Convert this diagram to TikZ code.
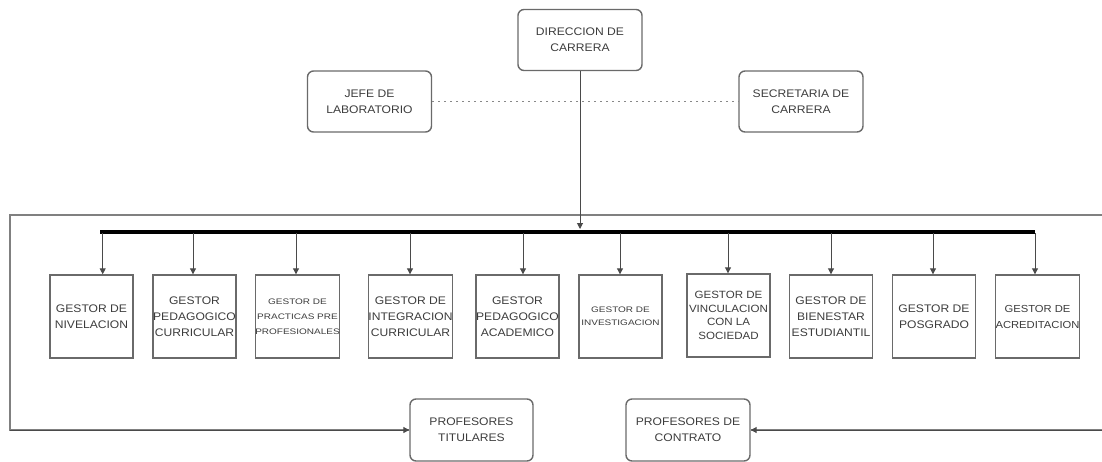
\documentclass[tikz,border=0pt]{standalone}
\usepackage{fontspec}
\setmainfont[FakeStretch=1.1]{Liberation Sans}
\newfontfamily\widefont[FakeStretch=1.25]{Liberation Sans}
\usetikzlibrary{arrows.meta}
\definecolor{ln}{HTML}{6A6A6A}
\definecolor{tx}{HTML}{3C3C3C}
\begin{document}
\begin{tikzpicture}[x=1pt,y=-1pt,
 rbox/.style={draw=ln,line width=1.4pt,rounded corners=6pt,minimum width=124pt,minimum height=61pt,inner sep=0pt,align=center,text=tx,font=\fontsize{11}{16}\selectfont},
 gbox/.style={draw=ln,line width=1.4pt,minimum width=83pt,minimum height=83pt,inner sep=0pt,align=center,text=tx,font=\fontsize{11}{16}\selectfont},
 arr/.style={draw=ln!70!black,line width=1pt,-{Triangle[width=6pt,length=6pt]}},
 framel/.style={draw=ln!85,line width=1.6pt},
 busl/.style={draw=black,line width=4pt},
]
\useasboundingbox (0,0) rectangle (1102,461);

% top level
\node[rbox] (dir) at (580,40) {DIRECCION DE\\CARRERA};
\node[rbox] (jefe) at (369.5,101.5) {JEFE DE\\LABORATORIO};
\node[rbox] (sec) at (801,101.5) {SECRETARIA DE\\CARRERA};
\draw[ln!80,line width=1.8pt,dash pattern=on 1.8pt off 4.2pt] (jefe.east) -- (sec.west);

% gestores
\node[gbox] (g1) at (91.5,316.5) {GESTOR DE\\NIVELACION};
\node[gbox] (g2) at (194.5,316.5) {GESTOR\\PEDAGOGICO\\CURRICULAR};
\node[gbox,font=\widefont\fontsize{8}{15}\selectfont] (g3) at (297.5,316.5) {GESTOR DE\\PRACTICAS PRE\\PROFESIONALES};
\node[gbox] (g4) at (410.5,316.5) {GESTOR DE\\INTEGRACION\\CURRICULAR};
\node[gbox] (g5) at (517.5,316.5) {GESTOR\\PEDAGOGICO\\ACADEMICO};
\node[gbox,font=\widefont\fontsize{8}{12.7}\selectfont] (g6) at (620.5,316.5) {GESTOR DE\\INVESTIGACION};
\node[gbox,font=\fontsize{10.5}{13.5}\selectfont] (g7) at (728.5,315.5) {GESTOR DE\\VINCULACION\\CON LA\\SOCIEDAD};
\node[gbox] (g8) at (831,316.5) {GESTOR DE\\BIENESTAR\\ESTUDIANTIL};
\node[gbox] (g9) at (934,316.5) {GESTOR DE\\POSGRADO};
\node[gbox,font=\fontsize{10.2}{16}\selectfont] (g10) at (1037.5,316.5) {GESTOR DE\\ACREDITACION};

% profesores
\node[rbox,minimum width=123pt,minimum height=62pt] (tit) at (471.5,430) {PROFESORES\\TITULARES};
\node[rbox,minimum height=62pt] (con) at (688,430) {PROFESORES DE\\CONTRATO};

% frame
\coordinate (fr1) at (1102,215);
\coordinate (fr2) at (10,215);
\coordinate (fr3) at (10,430);
\coordinate (fr4) at (1102,430);
\draw[framel] (fr1) -- (fr2) -- (fr3) -- (fr3 -| tit.west);
\draw[arr] (fr3) -- (tit.west);
\draw[framel] (fr4) -- (con.east);
\draw[arr] (fr4) -- (con.east);

% bus
\coordinate (bl) at (100,231.5);
\coordinate (br) at (1035,231.5);
\draw[arr] (dir.south) -- (580,229);
\draw[busl] (bl) -- (br);
\foreach \x/\g in {102.7/g1,193/g2,296/g3,410/g4,523/g5,620/g6,728/g7,831/g8,933/g9,1035/g10}{
  \coordinate (b\g) at (\x,233);
  \draw[arr] (b\g) -- (b\g |- \g.north);
}
\end{tikzpicture}
\end{document}
